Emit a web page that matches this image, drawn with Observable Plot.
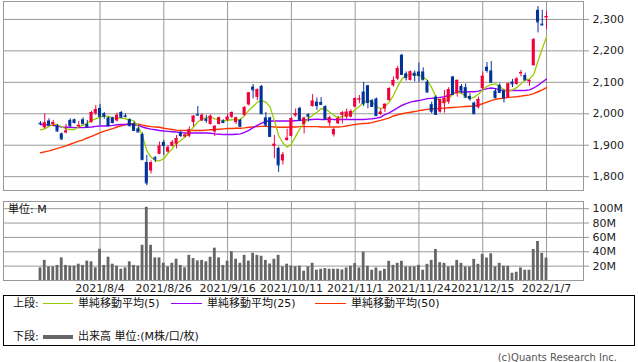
<!DOCTYPE html>
<html><head><meta charset="utf-8">
<script src="https://cdn.jsdelivr.net/npm/d3@7"></script>
<script src="https://cdn.jsdelivr.net/npm/@observablehq/plot@0.6"></script>
<style>
body{margin:0;background:#fff;}
#wrap{position:relative;width:638px;height:362px;font-family:"DejaVu Sans","Noto Sans CJK JP",sans-serif;font-size:11px;color:#111;overflow:hidden;background:#fff}
#price,#vol{position:absolute;left:0}
#price{top:0}
#vol{top:200px}
#unit{position:absolute;left:8px;top:203px;line-height:14px;background:transparent}
#legend{position:absolute;left:3px;top:295px;width:630px;height:49px;border:1px solid #000}
.lt{position:absolute;line-height:14px;white-space:nowrap}
.ll{position:absolute;height:0}
#copy{position:absolute;right:21px;top:351px;font-size:10px;color:#555;line-height:14px}
</style></head>
<body><div id="wrap">
<div id="price"></div>
<div id="vol"></div>
<div id="unit">単位: M</div>
<div id="legend">
  <div class="lt" style="left:9px;top:1px">上段:</div>
  <div class="ll" style="left:39px;width:30px;top:7px;border-top:1.5px solid #99cc00"></div>
  <div class="lt" style="left:74px;top:1px">単純移動平均(5)</div>
  <div class="ll" style="left:167px;width:31px;top:7px;border-top:1.5px solid #9900ff"></div>
  <div class="lt" style="left:203px;top:1px">単純移動平均(25)</div>
  <div class="ll" style="left:311px;width:31px;top:7px;border-top:1.5px solid #ff3300"></div>
  <div class="lt" style="left:347px;top:1px">単純移動平均(50)</div>
  <div class="lt" style="left:9px;top:34px">下段:</div>
  <div class="ll" style="left:39px;width:30px;top:39px;border-top:4px solid #666"></div>
  <div class="lt" style="left:74px;top:34px">出来高 単位:(M株/口/枚)</div>
</div>
<div id="copy">(c)Quants Research Inc.</div>
</div>
<script>
const dates = [
"2021/7/13","2021/7/14","2021/7/15","2021/7/16","2021/7/19","2021/7/20","2021/7/21","2021/7/26","2021/7/27","2021/7/28","2021/7/29","2021/7/30",
"2021/8/2","2021/8/3","2021/8/4","2021/8/5","2021/8/6","2021/8/10","2021/8/11","2021/8/12","2021/8/13","2021/8/16","2021/8/17","2021/8/18","2021/8/19","2021/8/20","2021/8/23","2021/8/24","2021/8/25","2021/8/26","2021/8/27","2021/8/30","2021/8/31",
"2021/9/1","2021/9/2","2021/9/3","2021/9/6","2021/9/7","2021/9/8","2021/9/9","2021/9/10","2021/9/13","2021/9/14","2021/9/15","2021/9/16","2021/9/17","2021/9/21","2021/9/22","2021/9/24","2021/9/27","2021/9/28","2021/9/29","2021/9/30",
"2021/10/1","2021/10/4","2021/10/5","2021/10/6","2021/10/7","2021/10/8","2021/10/11","2021/10/12","2021/10/13","2021/10/14","2021/10/15","2021/10/18","2021/10/19","2021/10/20","2021/10/21","2021/10/22","2021/10/25","2021/10/26","2021/10/27","2021/10/28","2021/10/29",
"2021/11/1","2021/11/2","2021/11/4","2021/11/5","2021/11/8","2021/11/9","2021/11/10","2021/11/11","2021/11/12","2021/11/15","2021/11/16","2021/11/17","2021/11/18","2021/11/19","2021/11/22","2021/11/24","2021/11/25","2021/11/26","2021/11/29","2021/11/30",
"2021/12/1","2021/12/2","2021/12/3","2021/12/6","2021/12/7","2021/12/8","2021/12/9","2021/12/10","2021/12/13","2021/12/14","2021/12/15","2021/12/16","2021/12/17","2021/12/20","2021/12/21","2021/12/22","2021/12/23","2021/12/24","2021/12/27","2021/12/28","2021/12/29","2021/12/30",
"2022/1/4","2022/1/5","2022/1/6","2022/1/7"];

const open = [1970,1955,1977,1966,1960,1936,1939,1979,1981,1958, 1981,1966,1972,2000,2017,2000,1987,1987,1977,2004, 1993,1981,1968,1952,1934,1845,1818,1860,1871,1909, 1878,1896,1903,1940,1926,1928,1972,1998,1977,1983, 1966,1942,1966,1977,1979,1989,1972,1979,1995,2028, 2085,2052,2087,1987,1987,1896,1890,1850,1915,1928, 1993,2017,1966,1997,2023,2037,2036,2023,1970,1933, 1968,1995,1989,1989,2021,2044,2069,2089,2042,2047, 1998,2015,2042,2089,2110,2186,2127,2106,2129,2133, 2133,2101,2029,2053,2005,2032,2037,2117,2064,2087, 2083,2055,2034,2019,2080,2148,2136,2072,2090,2072, 2051,2101,2093,2127,2122,2101,2153,2329,2285,2305];
const high = [1975,2000,1984,1979,1966,1939,1966,1984,1983,1975, 1987,1979,2008,2026,2030,2004,1989,1989,2002,2007, 2000,1984,1974,1958,1939,1868,1850,1864,1910,1915, 1898,1915,1931,1945,1936,1958,1994,2023,2000,1995, 1996,1962,1989,1981,1998,2006,1989,1983,2023,2068, 2093,2079,2090,2004,1989,1931,1894,1877,1951,1987, 2015,2021,1989,2000,2061,2050,2051,2025,1992,1954, 1992,2007,2015,2013,2050,2058,2100,2090,2045,2050, 2016,2032,2083,2117,2151,2189,2133,2136,2136,2161, 2146,2106,2037,2057,2047,2074,2083,2119,2108,2093, 2095,2064,2037,2053,2133,2163,2166,2080,2095,2076, 2098,2109,2115,2138,2129,2108,2239,2341,2329,2326];
const low = [1965,1952,1960,1958,1942,1915,1936,1956,1968,1955, 1966,1956,1970,1995,1963,1983,1958,1968,1974,1985, 1987,1958,1945,1940,1852,1771,1809,1845,1870,1867, 1875,1894,1888,1924,1924,1924,1958,1992,1975,1970, 1964,1928,1964,1970,1975,1985,1966,1958,1992,2025, 2047,2042,1998,1958,1926,1857,1814,1837,1913,1926, 1989,1975,1936,1974,2021,2011,2026,1980,1960,1926, 1966,1968,1981,1987,2019,2032,2023,2016,2021,1992, 1994,2004,2040,2085,2106,2123,2104,2104,2101,2100, 2106,2066,2000,1995,2002,2002,2030,2058,2053,2064, 2048,2040,1998,2015,2074,2129,2098,2048,2066,2034, 2049,2083,2091,2117,2104,2087,2151,2257,2278,2268];
const close = [1968,1971,1964,1972,1945,1920,1945,1962,1972,1963, 1968,1958,2004,2013,1992,1992,1962,1972,1995,1989, 1991,1962,1947,1942,1854,1780,1844,1856,1897,1899, 1893,1909,1921,1931,1932,1949,1992,1996,1995,1979, 1992,1960,1987,1972,1989,2004,1987,1960,2019,2066, 2076,2076,2000,1964,1928,1903,1837,1869,1922,1985, 2000,1979,1986,1992,2040,2026,2030,1983,1987,1950, 1984,2003,2005,2007,2048,2047,2032,2036,2023,1994, 2005,2030,2080,2106,2143,2125,2115,2133,2122,2122, 2108,2069,2008,1998,2045,2048,2076,2062,2106,2072, 2053,2048,2000,2045,2119,2138,2100,2051,2068,2051, 2095,2095,2110,2131,2108,2106,2235,2292,2283,2309];

const ma5 = [1949,1952,1960,1966,1966,1958,1952,1950,1950,1958, 1963,1970,1979,1984,1989,1993,1992,1987,1986,1986, 1984,1981,1977,1960,1928,1883,1862,1852,1850,1857, 1875,1889,1905,1915,1926,1942,1958,1974,1984,1987, 1989,1984,1981,1977,1979,1981,1982,1981,1995,2011, 2023,2037,2042,2037,2021,1979,1931,1907,1894,1903, 1928,1952,1970,1984,1995,2005,2016,2016,2005,1995, 1987,1992,1995,2000,2013,2023,2037,2042,2037,2023, 2016,2023,2037,2058,2087,2111,2122,2125,2125,2122, 2117,2106,2083,2053,2037,2037,2048,2062,2069,2064, 2058,2048,2053,2062,2076,2087,2093,2095,2087,2076, 2072,2076,2083,2095,2108,2111,2125,2168,2207,2244];
const ma25 = [1966,1965,1964,1963,1961,1958,1957,1957,1956,1956, 1956,1957,1958,1960,1961,1961,1962,1963,1965,1966, 1966,1966,1965,1963,1958,1954,1951,1949,1947,1945, 1944,1943,1942,1940,1939,1939,1939,1939,1939,1939, 1938,1936,1935,1934,1934,1934,1935,1936,1941,1947, 1956,1963,1970,1976,1977,1977,1977,1977,1977,1977, 1978,1979,1980,1981,1982,1983,1982,1982,1983,1982, 1982,1982,1982,1982,1982,1982,1982,1983,1984,1986, 1989,1997,2003,2011,2019,2027,2032,2037,2040,2042, 2045,2048,2049,2050,2052,2054,2058,2064,2069,2069, 2069,2070,2070,2072,2076,2080,2082,2080,2076,2074, 2074,2074,2074,2074,2074,2076,2082,2090,2101,2110];
const ma50 = [1876,1879,1882,1886,1890,1894,1898,1903,1908,1913, 1917,1923,1928,1934,1940,1945,1949,1953,1958,1962, 1966,1968,1968,1967,1964,1961,1959,1958,1957,1954, 1952,1950,1948,1947,1947,1947,1947,1947,1947,1948, 1949,1950,1951,1952,1953,1953,1954,1954,1955,1957, 1958,1959,1960,1960,1959,1958,1957,1957,1957,1958, 1958,1959,1959,1959,1959,1959,1958,1958,1958,1958, 1958,1959,1961,1964,1966,1968,1969,1970,1972,1976, 1979,1983,1987,1993,1997,2000,2003,2005,2007,2010, 2012,2014,2015,2016,2017,2018,2019,2020,2021,2022, 2023,2024,2025,2028,2032,2037,2042,2046,2048,2050, 2052,2053,2054,2056,2058,2060,2064,2070,2076,2083];

const volume = [17.6,28,19,19,21,31.5,21,20,20,22.7, 21,27,26,17.6,43.5,21,32.4,22.7,20,15.7, 17.6,26,21,20,49,102,49,31.5,31.5,24, 19,24,29.6,21,17.6,35,30.5,27.3,28,26, 32.4,45,31.5,21,27,40,29.6,24,35,27, 38,35,33.8,28,23,29.6,35,19,22.7,20, 19,20,13,19,24,14.4,15.7,16.6,15.7,15.7, 15.7,14.7,17.5,19.8,23.5,17.5,39.5,19.8,14.3,17.5, 12.9,15.6,26.7,21.1,23.9,26.7,18.9,18.9,18.9,21.1, 14.3,22.5,28,43.2,24.8,23.9,18.9,19.8,28,23.9, 18.9,18.9,29.4,22.5,36.3,31.3,37.2,18.9,23.9,19.8, 19.8,10.1,11.5,17.5,14.3,14.3,43.2,54.3,37.7,31.3];

const dateLabels = ["2021/8/4","2021/8/26","2021/9/16","2021/10/11","2021/11/1","2021/11/24","2021/12/15","2022/1/7"];
const priceTicks = [1800,1900,2000,2100,2200,2300];
const volumeTicks = [20,40,60,80,100];
const volumeTickLabels = ["20M","40M","60M","80M","100M"];

const RED = "#f2003c", BLUE = "#003399", GRID = "#999999";
const gridIdx = dateLabels.map(d => dates.indexOf(d));
const rows = close.map((c, i) => ({i, o: open[i], h: high[i], l: low[i], c, up: c >= open[i]}));
const ups = rows.filter(d => d.up), downs = rows.filter(d => !d.up);
const xScale = {type: "linear", domain: [-8.7, 127.7], axis: null};
const half = 0.36;
const style = {fontFamily: "DejaVu Sans", fontSize: "11px", background: "transparent", overflow: "visible"};

function candles(data, color) {
  return [
    Plot.ruleX(data, {x: "i", y1: "l", y2: "h", stroke: color, strokeWidth: 1}),
    Plot.rect(data, {x1: d => d.i - half, x2: d => d.i + half, y1: "o", y2: "c", fill: color}),
    Plot.ruleY(data, {y: "c", x1: d => d.i - half, x2: d => d.i + half, stroke: color, strokeWidth: 1})
  ];
}

const pricePlot = Plot.plot({
  width: 638, height: 191,
  marginLeft: 3, marginRight: 55, marginTop: 1, marginBottom: 1,
  x: xScale,
  y: {domain: [1756, 2357], axis: null},
  style,
  marks: [
    Plot.ruleY(priceTicks, {stroke: GRID, strokeWidth: 1}),
    Plot.ruleX(gridIdx, {stroke: GRID, strokeWidth: 1}),
    Plot.line(ma50, {x: (d, i) => i, y: d => d, stroke: "#ff3300", strokeWidth: 1.4}),
    Plot.line(ma25, {x: (d, i) => i, y: d => d, stroke: "#9900ff", strokeWidth: 1.4}),
    Plot.line(ma5, {x: (d, i) => i, y: d => d, stroke: "#99cc00", strokeWidth: 1.3}),
    ...candles(ups, RED),
    ...candles(downs, BLUE),
    Plot.frame({stroke: GRID, strokeWidth: 1}),
    Plot.axisY(priceTicks, {anchor: "right", tickSize: 5, tickPadding: 4, tickFormat: d3.format(","), stroke: GRID, fill: "#222", label: null})
  ]
});
document.getElementById("price").appendChild(pricePlot);

const volPlot = Plot.plot({
  width: 638, height: 97,
  marginLeft: 3, marginRight: 55, marginTop: 1, marginBottom: 17,
  x: xScale,
  y: {domain: [0, 110], axis: null},
  style,
  marks: [
    Plot.ruleY(volumeTicks, {stroke: GRID, strokeWidth: 1}),
    Plot.ruleX(gridIdx, {stroke: GRID, strokeWidth: 1}),
    Plot.rectY(volume, {x1: (d, i) => i - 0.33, x2: (d, i) => i + 0.33, y: d => d, fill: "#666666"}),
    Plot.frame({stroke: GRID, strokeWidth: 1}),
    Plot.axisY(volumeTicks, {anchor: "right", tickSize: 5, tickPadding: 4, tickFormat: (d, k) => volumeTickLabels[volumeTicks.indexOf(d)], stroke: GRID, fill: "#222", label: null}),
    Plot.axisX(gridIdx, {anchor: "bottom", tickSize: 0, tickPadding: 4, tickFormat: i => dates[i], fill: "#222", label: null})
  ]
});
document.getElementById("vol").appendChild(volPlot);
</script>
</body></html>
